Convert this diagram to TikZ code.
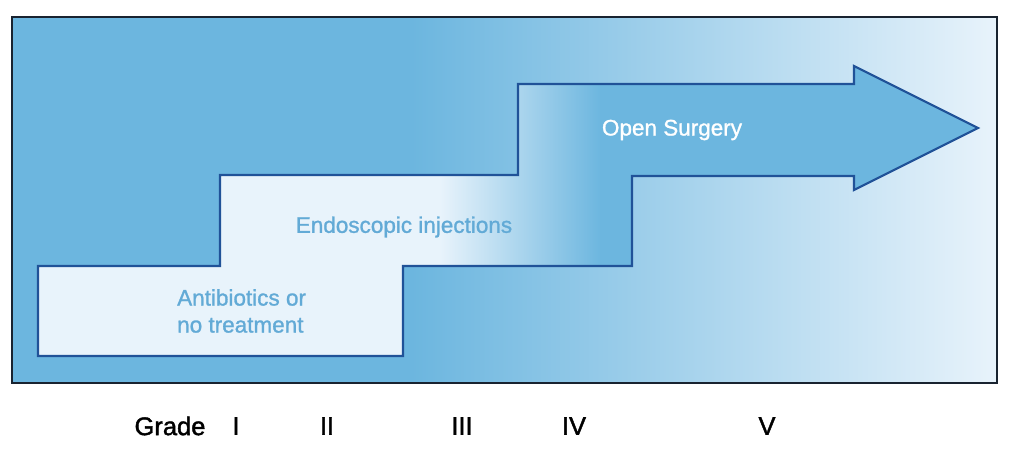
\documentclass[tikz,border=0pt]{standalone}
\usepackage{fontspec}
\setmainfont{Liberation Sans}
\newfontfamily\heavyfont[FakeBold=1.2]{Liberation Sans}
\newfontfamily\gradefont[FakeBold=1.6]{Liberation Sans}
\definecolor{bgdark}{RGB}{108,182,223}
\definecolor{bglight}{RGB}{232,243,251}
\definecolor{stepline}{RGB}{32,82,152}
\definecolor{frame}{RGB}{25,35,48}
\definecolor{txtblue}{RGB}{98,170,214}
\tikzset{
  lbl/.style={inner sep=0pt, font=\heavyfont\fontsize{22.5}{27}\selectfont},
  gradelbl/.style={inner sep=0pt, font=\gradefont\fontsize{25.5}{28}\selectfont, text=black},
}
\begin{document}
\begin{tikzpicture}[x=1pt,y=-1pt]
\useasboundingbox (0,0) rectangle (1024,450);
% background
\fill[bgdark] (12,17) rectangle (412,383);
\shade[left color=bgdark, right color=bglight, shading angle=90] (411,17) rectangle (997,383);
\draw[frame, line width=1.8pt] (12,17) rectangle (997,383);
% staircase arrow
\def\stairpath{(38,266) -- (220,266) -- (220,175) -- (518,175) -- (518,84) -- (854,84) -- (854,66) -- (978,128) -- (854,190) -- (854,176) -- (632,176) -- (632,266) -- (403,266) -- (403,356) -- (38,356) -- cycle}
\begin{scope}
  \clip \stairpath;
  \fill[bglight] (30,60) rectangle (441,360);
  \shade[left color=bglight, right color=bgdark] (440,60) rectangle (601,360);
  \fill[bgdark] (600,60) rectangle (990,360);
\end{scope}
\draw[stepline, line width=2.2pt, line join=miter] \stairpath;
% labels
\node[lbl, text=white] (open) at (672,130) {Open Surgery};
\node[lbl, text=txtblue] (endo) at (404,227) {Endoscopic injections};
\node[lbl, text=txtblue, align=left, anchor=west] (anti) at (177,311) {Antibiotics or\\no treatment};
% grades
\node[gradelbl] (grade) at (170,426) {Grade};
\node[gradelbl] (g1) at (236,426) {I};
\node[gradelbl] (g2) at (327,426) {II};
\node[gradelbl] (g3) at (462,426) {III};
\node[gradelbl] (g4) at (574,426) {IV};
\node[gradelbl] (g5) at (767,426) {V};
\end{tikzpicture}
\end{document}
